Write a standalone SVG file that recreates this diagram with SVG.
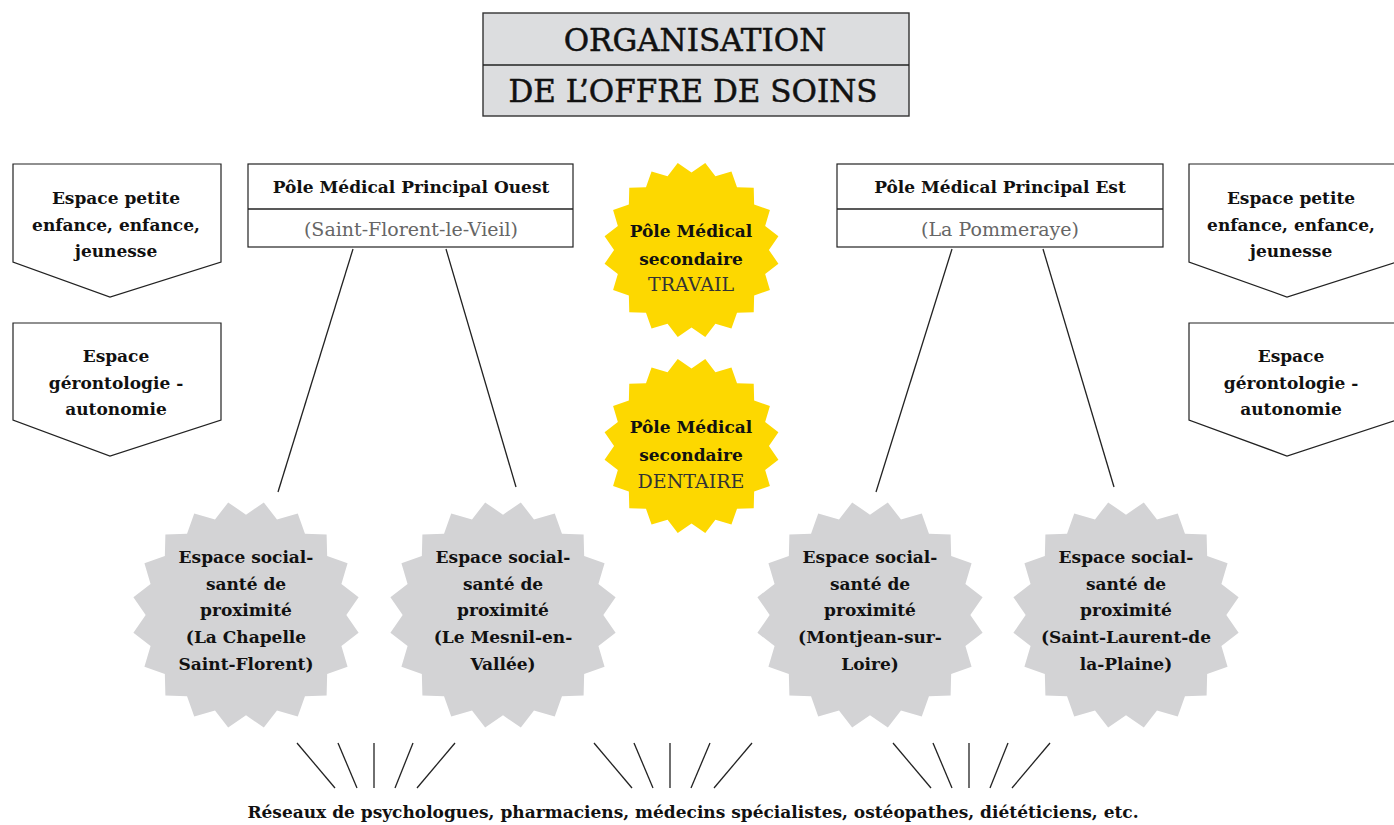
<svg xmlns="http://www.w3.org/2000/svg" xmlns:xlink="http://www.w3.org/1999/xlink" width="1394" height="825" viewBox="0 0 1394 825">
<defs>
<style>
.t{font-family:"DejaVu Serif","Liberation Serif",serif;text-anchor:middle;fill:#111}
.b{font-weight:bold;font-size:17px}
.l{font-size:19px;fill:#666}
.ti{font-size:31px;fill:#111;stroke:#111;stroke-width:0.5}
.box{fill:#fff;stroke:#222;stroke-width:1.2}
.tbox{fill:#dcdddf;stroke:#333;stroke-width:1.4}
.ln{stroke:#222;stroke-width:1.3;fill:none}
.y{fill:#fdd800}
.g{fill:#d3d3d5}
</style>
<polygon id="burst" points="0,-88 15.64,-98.77 27.19,-83.7 45.4,-89.1 51.73,-71.19 70.71,-70.71 71.19,-51.73 89.1,-45.4 83.7,-27.19 98.77,-15.64 88,0 98.77,15.64 83.7,27.19 89.1,45.4 71.19,51.73 70.71,70.71 51.73,71.19 45.4,89.1 27.19,83.7 15.64,98.77 0,88 -15.64,98.77 -27.19,83.7 -45.4,89.1 -51.73,71.19 -70.71,70.71 -71.19,51.73 -89.1,45.4 -83.7,27.19 -98.77,15.64 -88,0 -98.77,-15.64 -83.7,-27.19 -89.1,-45.4 -71.19,-51.73 -70.71,-70.71 -51.73,-71.19 -45.4,-89.1 -27.19,-83.7 -15.64,-98.77"/>
</defs>
<rect width="1394" height="825" fill="#fff"/>

<g id="title">
<rect class="tbox" x="483" y="13" width="426" height="103"/>
<line class="ln" x1="483" y1="65" x2="909" y2="65"/>
<text class="t ti" x="695" y="51">ORGANISATION</text>
<text class="t ti" x="693" y="102">DE L’OFFRE DE SOINS</text>
</g>

<g id="connectors">
<line class="ln" x1="353" y1="249" x2="278" y2="492"/>
<line class="ln" x1="446" y1="249" x2="516" y2="487"/>
<line class="ln" x1="952" y1="249" x2="876" y2="492"/>
<line class="ln" x1="1043" y1="249" x2="1114" y2="487"/>
<line class="ln" x1="297" y1="743" x2="335" y2="788"/>
<line class="ln" x1="338" y1="743" x2="357" y2="788"/>
<line class="ln" x1="374" y1="743" x2="374" y2="788"/>
<line class="ln" x1="413" y1="743" x2="395" y2="788"/>
<line class="ln" x1="455" y1="743" x2="417" y2="788"/>
<line class="ln" x1="594" y1="743" x2="632" y2="788"/>
<line class="ln" x1="634" y1="743" x2="653" y2="788"/>
<line class="ln" x1="670" y1="743" x2="670" y2="788"/>
<line class="ln" x1="710" y1="743" x2="691" y2="788"/>
<line class="ln" x1="752" y1="743" x2="714" y2="788"/>
<line class="ln" x1="893" y1="743" x2="931" y2="788"/>
<line class="ln" x1="933" y1="743" x2="952" y2="788"/>
<line class="ln" x1="969" y1="743" x2="969" y2="788"/>
<line class="ln" x1="1008" y1="743" x2="990" y2="788"/>
<line class="ln" x1="1050" y1="743" x2="1012" y2="788"/>
</g>

<g id="espace-enfance-gauche">
<polygon class="box" points="13,164 221,164 221,262 110,297 13,262"/>
<text class="t b" x="116" y="204">Espace petite</text>
<text class="t b" x="116" y="231">enfance, enfance,</text>
<text class="t b" x="116" y="257">jeunesse</text>
</g>
<g id="espace-geronto-gauche">
<polygon class="box" points="13,323 221,323 221,420 110,456 13,420"/>
<text class="t b" x="116" y="362">Espace</text>
<text class="t b" x="116" y="389">gérontologie -</text>
<text class="t b" x="116" y="415">autonomie</text>
</g>
<g id="espace-enfance-droite">
<polygon class="box" points="1189,164 1397,164 1397,262 1287,297 1189,262"/>
<text class="t b" x="1291" y="204">Espace petite</text>
<text class="t b" x="1291" y="231">enfance, enfance,</text>
<text class="t b" x="1291" y="257">jeunesse</text>
</g>
<g id="espace-geronto-droite">
<polygon class="box" points="1189,323 1397,323 1397,420 1287,456 1189,420"/>
<text class="t b" x="1291" y="362">Espace</text>
<text class="t b" x="1291" y="389">gérontologie -</text>
<text class="t b" x="1291" y="415">autonomie</text>
</g>

<g id="pole-ouest">
<rect class="box" x="248" y="164" width="325" height="83"/>
<line class="ln" x1="248" y1="209" x2="573" y2="209"/>
<text class="t b" x="411" y="193">Pôle Médical Principal Ouest</text>
<text class="t l" x="411" y="236">(Saint-Florent-le-Vieil)</text>
</g>
<g id="pole-est">
<rect class="box" x="837" y="164" width="326" height="83"/>
<line class="ln" x1="837" y1="209" x2="1163" y2="209"/>
<text class="t b" x="1000" y="193">Pôle Médical Principal Est</text>
<text class="t l" x="1000" y="236">(La Pommeraye)</text>
</g>

<g id="pole-travail">
<use xlink:href="#burst" class="y" transform="translate(691.5,250) scale(0.88)"/>
<text class="t b" x="691" y="237">Pôle Médical</text>
<text class="t b" x="691" y="265">secondaire</text>
<text class="t l" x="691" y="291" style="fill:#333">TRAVAIL</text>
</g>
<g id="pole-dentaire">
<use xlink:href="#burst" class="y" transform="translate(691.5,446) scale(0.88)"/>
<text class="t b" x="691" y="433">Pôle Médical</text>
<text class="t b" x="691" y="461">secondaire</text>
<text class="t l" x="691" y="488" style="fill:#333">DENTAIRE</text>
</g>

<g id="essp-chapelle">
<use xlink:href="#burst" class="g" transform="translate(246,615) scale(1.14)"/>
<text class="t b" x="246" y="563">Espace social-</text>
<text class="t b" x="246" y="590">santé de</text>
<text class="t b" x="246" y="616">proximité</text>
<text class="t b" x="246" y="643">(La Chapelle</text>
<text class="t b" x="246" y="670">Saint-Florent)</text>
</g>
<g id="essp-mesnil">
<use xlink:href="#burst" class="g" transform="translate(503,615) scale(1.14)"/>
<text class="t b" x="503" y="563">Espace social-</text>
<text class="t b" x="503" y="590">santé de</text>
<text class="t b" x="503" y="616">proximité</text>
<text class="t b" x="503" y="643">(Le Mesnil-en-</text>
<text class="t b" x="503" y="670">Vallée)</text>
</g>
<g id="essp-montjean">
<use xlink:href="#burst" class="g" transform="translate(870,615) scale(1.14)"/>
<text class="t b" x="870" y="563">Espace social-</text>
<text class="t b" x="870" y="590">santé de</text>
<text class="t b" x="870" y="616">proximité</text>
<text class="t b" x="870" y="643">(Montjean-sur-</text>
<text class="t b" x="870" y="670">Loire)</text>
</g>
<g id="essp-saint-laurent">
<use xlink:href="#burst" class="g" transform="translate(1126,615) scale(1.14)"/>
<text class="t b" x="1126" y="563">Espace social-</text>
<text class="t b" x="1126" y="590">santé de</text>
<text class="t b" x="1126" y="616">proximité</text>
<text class="t b" x="1126" y="643">(Saint-Laurent-de</text>
<text class="t b" x="1126" y="670">la-Plaine)</text>
</g>

<g id="reseaux">
<text class="t b" x="693" y="818">Réseaux de psychologues, pharmaciens, médecins spécialistes, ostéopathes, diététiciens, etc.</text>
</g>
</svg>
